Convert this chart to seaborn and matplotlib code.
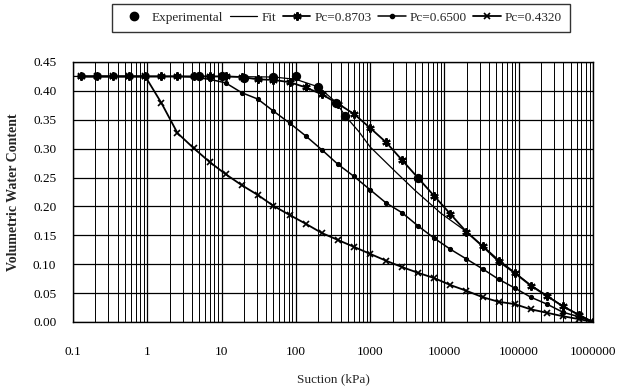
import numpy as np
import pandas as pd
import matplotlib
matplotlib.use("Agg")
import matplotlib.pyplot as plt
import seaborn as sns
from matplotlib.lines import Line2D
from matplotlib.ticker import FixedLocator, FixedFormatter, LogLocator, NullFormatter

sns.set_style("white")
plt.rcParams['font.family'] = ['Liberation Serif', 'DejaVu Serif']

# ---- data ----
suction = [0.128, 0.21, 0.35, 0.57, 0.94, 1.55, 2.55, 4.2, 6.9, 11.3, 18.6, 30.6, 50, 83,
           136, 224, 368, 606, 997, 1640, 2700, 4440, 7300, 12000, 19800, 32600, 53600,
           88000, 145000, 239000, 393000, 647000, 1000000]

pc_8703 = [0.425, 0.425, 0.425, 0.425, 0.425, 0.425, 0.425, 0.425, 0.425, 0.425, 0.424,
           0.420, 0.419, 0.415, 0.406, 0.394, 0.378, 0.360, 0.336, 0.311, 0.280, 0.249,
           0.218, 0.187, 0.156, 0.131, 0.105, 0.085, 0.063, 0.045, 0.027, 0.012, 0.0]

pc_6500 = [0.425, 0.425, 0.425, 0.425, 0.425, 0.425, 0.425, 0.424, 0.420, 0.414, 0.397,
           0.386, 0.365, 0.344, 0.322, 0.298, 0.273, 0.252, 0.229, 0.206, 0.189, 0.166,
           0.145, 0.126, 0.109, 0.092, 0.074, 0.059, 0.043, 0.031, 0.017, 0.009, 0.0]

pc_4320 = [0.425, 0.425, 0.425, 0.425, 0.425, 0.379, 0.327, 0.301, 0.277, 0.256, 0.237,
           0.220, 0.201, 0.185, 0.170, 0.154, 0.142, 0.130, 0.118, 0.106, 0.095, 0.085,
           0.076, 0.064, 0.054, 0.043, 0.035, 0.031, 0.022, 0.016, 0.010, 0.005, 0.0]

fit_x = [0.1, 10, 50, 100, 200, 350, 460, 700, 1000, 2200, 4000, 9000, 20000, 53000,
         145000, 400000, 1000000]
fit_y = [0.425, 0.425, 0.424, 0.420, 0.407, 0.380, 0.357, 0.330, 0.303, 0.260, 0.228,
         0.188, 0.156, 0.108, 0.064, 0.027, 0.0]

exp_x = [5, 10, 20, 50, 100, 200, 350, 460, 4440]
exp_y = [0.426, 0.426, 0.423, 0.424, 0.426, 0.407, 0.379, 0.357, 0.249]

x_ticks = [0.1, 1, 10, 100, 1000, 10000, 100000, 1000000]
x_ticklabels = ["0.1", "1", "10", "100", "1000", "10000", "100000", "1000000"]
y_ticks = [0.00, 0.05, 0.10, 0.15, 0.20, 0.25, 0.30, 0.35, 0.40, 0.45]

# ---- figure ----
fig = plt.figure(figsize=(6.26, 3.87), dpi=100)
ax = fig.add_axes([73/626, 1-322/387, (593-73)/626, (322-62)/387])

asterisk = (6, 2, 0)
df_fit = pd.DataFrame({"x": fit_x, "y": fit_y})
df_a = pd.DataFrame({"x": suction, "y": pc_8703})
df_b = pd.DataFrame({"x": suction, "y": pc_6500})
df_c = pd.DataFrame({"x": suction, "y": pc_4320})
df_e = pd.DataFrame({"x": exp_x, "y": exp_y})

sns.lineplot(data=df_fit, x="x", y="y", ax=ax, color="black", lw=0.9,
             estimator=None, sort=False, zorder=3)
sns.lineplot(data=df_a, x="x", y="y", ax=ax, color="black", lw=1.3, marker=asterisk,
             markersize=6, markeredgewidth=1.5, markeredgecolor="black",
             estimator=None, sort=False, zorder=4)
sns.lineplot(data=df_b, x="x", y="y", ax=ax, color="black", lw=1.1, marker="o",
             markersize=3, markeredgecolor="black", markerfacecolor="black",
             estimator=None, sort=False, zorder=4)
sns.lineplot(data=df_c, x="x", y="y", ax=ax, color="black", lw=1.3, marker="x",
             markersize=5, markeredgewidth=1.2, markeredgecolor="black",
             estimator=None, sort=False, zorder=4)
sns.scatterplot(data=df_e, x="x", y="y", ax=ax, color="black", s=45,
                edgecolor="black", linewidth=0, zorder=5)

ax.set_xscale("log")
ax.set_xlim(0.1, 1000000)
ax.set_ylim(0.0, 0.45)
ax.xaxis.set_major_locator(FixedLocator(x_ticks))
ax.xaxis.set_major_formatter(FixedFormatter(x_ticklabels))
ax.xaxis.set_minor_locator(LogLocator(base=10, subs=np.arange(2, 10), numticks=100))
ax.xaxis.set_minor_formatter(NullFormatter())
ax.yaxis.set_major_locator(FixedLocator(y_ticks))
ax.set_yticklabels([f"{v:.2f}" for v in y_ticks])

ax.grid(True, which="major", axis="both", color="black", lw=0.9)
ax.grid(True, which="minor", axis="x", color="black", lw=0.7)
ax.set_axisbelow(True)
for s in ax.spines.values():
    s.set_color("black")
    s.set_linewidth(1.0)
ax.tick_params(axis="both", which="both", length=0, labelsize=9.5, colors="black")
ax.tick_params(axis="y", pad=12)
ax.tick_params(axis="x", pad=17)

ax.set_xlabel("Suction (kPa)", fontsize=9.5, labelpad=11)
ax.set_ylabel("Volumetric Water Content", fontsize=10, fontweight="bold", labelpad=9)

handles = [
    Line2D([], [], color="black", marker="o", ls="none", markersize=6),
    Line2D([], [], color="black", lw=0.9),
    Line2D([], [], color="black", lw=1.3, marker=asterisk, markersize=6, markeredgewidth=1.5),
    Line2D([], [], color="black", lw=1.1, marker="o", markersize=3),
    Line2D([], [], color="black", lw=1.3, marker="x", markersize=5, markeredgewidth=1.2),
]
labels = ["Experimental", "Fit", "Pc=0.8703", "Pc=0.6500", "Pc=0.4320"]
leg = fig.legend(handles, labels, loc="upper center", bbox_to_anchor=(0.545, 0.99),
                 ncol=5, frameon=True, fancybox=False, edgecolor="black", fontsize=9.5,
                 handlelength=2.1, columnspacing=0.5, handletextpad=0.3,
                 borderpad=0.6, borderaxespad=0.0)
leg.get_frame().set_linewidth(1.0)

fig.savefig("out.png", dpi=100)
